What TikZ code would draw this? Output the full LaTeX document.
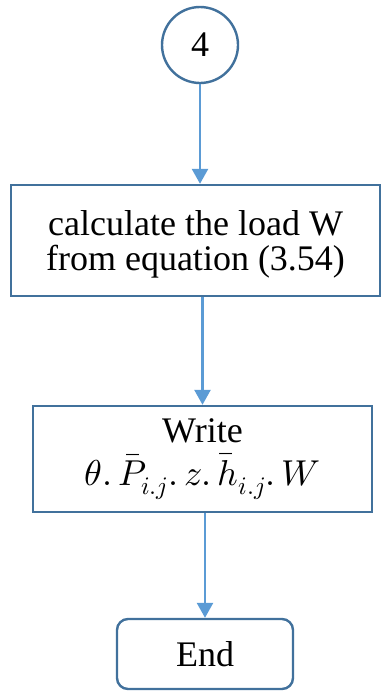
\documentclass[tikz,border=0pt]{standalone}
\usepackage{amsmath}
\usepackage{unicode-math}
\setmainfont{Liberation Serif}
\setmathfont{Latin Modern Math}
\usetikzlibrary{arrows.meta}
\definecolor{boxline}{RGB}{65,113,156}
\definecolor{flowline}{RGB}{91,155,213}
\begin{document}
\begin{tikzpicture}[x=1pt,y=-1pt,
  every node/.style={font=\fontsize{36}{33}\selectfont, text=black},
  procbox/.style={draw=boxline, line width=2.4pt, fill=white, align=center, inner sep=0pt},
  flow/.style={draw=flowline, line width=2.6pt, -{Triangle[width=16pt,length=15pt]}}]
\useasboundingbox (0,0) rectangle (381,691);
% connector circle
\node[procbox, circle, minimum size=76pt] (c) at (200,45) {4};
% processing steps
\node[procbox, minimum width=369pt, minimum height=111pt] (b1) at (195.5,240.5)
  {\raisebox{-5pt}[\height][\depth]{\begin{tabular}{@{}c@{}}calculate the load W\\from equation (3.54)\end{tabular}}};
\node[procbox, minimum width=339pt, minimum height=106pt] (b2) at (202.5,459)
  {Write\\[10pt]$\theta.\,\bar{P}_{i.j}.\,z.\,\bar{h}_{i.j}.\,W$};
% terminator
\node[procbox, rounded corners=11pt, minimum width=176pt, minimum height=70pt] (e) at (205,654) {End};
% connectors
\draw[flow] (c.south) -- (c.south |- b1.north);
\draw[flow] (b1.south -| b2.north) -- (b2.north);
\draw[flow] (b2.south -| e.north) -- (e.north);
\end{tikzpicture}
\end{document}
